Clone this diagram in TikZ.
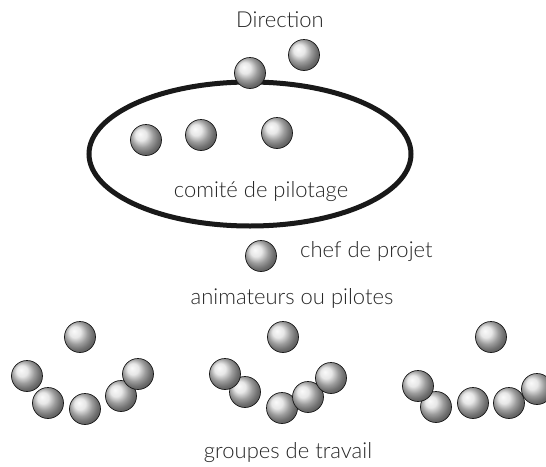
\documentclass[tikz,border=0pt]{standalone}
\usepackage{fontspec}
\setmainfont{Lato}[UprightFont=* Light]
\usetikzlibrary{shapes.geometric}
\begin{document}
\begin{tikzpicture}[x=1pt,y=-1pt,
  ball/.style={circle, minimum size=31pt, inner sep=0pt, shading=ball, ball color=gray!25, draw=black!90, line width=0.7pt},
  lbl/.style={font=\fontsize{22}{26}\selectfont, text=black!85, inner sep=0pt, anchor=base},
  ring/.style={draw=black!90, line width=5pt}]
\useasboundingbox (0,0) rectangle (546,466);
\clip (0,0) rectangle (546,466);
% comite de pilotage
\node[ring, ellipse, minimum width=322pt, minimum height=144pt, inner sep=0pt] (comite) at (250,154) {};
\node[ball] (c1) at (146,140) {};
\node[ball] (c2) at (201,135) {};
\node[ball] (c3) at (277,133) {};
\node[lbl] (tcomite) at (261,197) {comité de pilotage};
% direction
\node[lbl] (tdir) at (280,27) {Direction};
\node[ball] (d1) at (250,73) {};
\node[ball] (d2) at (304,55) {};
% chef de projet
\node[ball] (chef) at (261,256) {};
\node[lbl, anchor=base west] (tchef) at (300,257) {chef de projet};
% animateurs
\node[lbl] (tanim) at (292,304) {animateurs ou pilotes};
% group 1
\node[ball] (g1t) at (80,337) {};
\node[ball] (g1a) at (27,376) {};
\node[ball] (g1b) at (48,403) {};
\node[ball] (g1c) at (85,409) {};
\node[ball] (g1d) at (121,396) {};
\node[ball] (g1e) at (138,374) {};
% group 2
\node[ball] (g2t) at (283,337) {};
\node[ball] (g2b) at (245,392) {};
\node[ball] (g2a) at (225,374) {};
\node[ball] (g2c) at (282,408) {};
\node[ball] (g2d) at (308,397) {};
\node[ball] (g2e) at (331,378) {};
% group 3
\node[ball] (g3t) at (491,337) {};
\node[ball] (g3b) at (436,407) {};
\node[ball] (g3a) at (418,386) {};
\node[ball] (g3c) at (473,403) {};
\node[ball] (g3d) at (509,403) {};
\node[ball] (g3e) at (537,389) {};
% groupes de travail
\node[lbl] (tgroupes) at (288,458) {groupes de travail};
\end{tikzpicture}
\end{document}
